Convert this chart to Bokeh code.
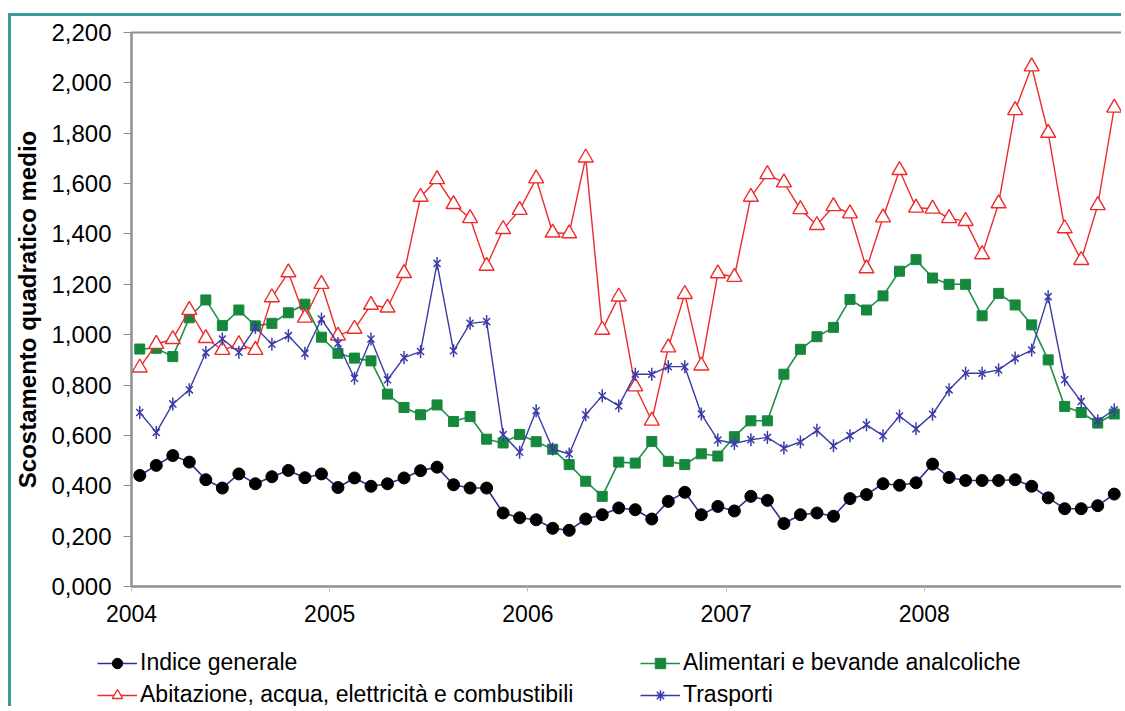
import math
from bokeh.plotting import figure
from bokeh.models import Range1d, FixedTicker, CustomJSTickFormatter, Legend, LegendItem
from bokeh.embed import file_html
from bokeh.resources import INLINE

# ---- data (monthly, Jan 2004 - Dec 2008) ----
year_ticks = [2004, 2005, 2006, 2007, 2008]
y_ticks = [0.0, 0.2, 0.4, 0.6, 0.8, 1.0, 1.2, 1.4, 1.6, 1.8, 2.0, 2.2]
months = [(y, m) for y in range(2004, 2009) for m in range(1, 13)]

indice_generale = [
    0.441, 0.481, 0.520, 0.494, 0.424, 0.391, 0.447, 0.408, 0.436, 0.461, 0.432, 0.447,
    0.393, 0.431, 0.398, 0.408, 0.431, 0.460, 0.474, 0.404, 0.391, 0.391, 0.292, 0.273,
    0.265, 0.231, 0.223, 0.268, 0.285, 0.312, 0.305, 0.268, 0.338, 0.374, 0.285, 0.318,
    0.300, 0.358, 0.342, 0.250, 0.285, 0.292, 0.279, 0.349, 0.365, 0.408, 0.402, 0.412,
    0.486, 0.433, 0.421, 0.421, 0.421, 0.424, 0.398, 0.352, 0.309, 0.309, 0.321, 0.367]

alimentari = [
    0.943, 0.946, 0.913, 1.067, 1.138, 1.036, 1.098, 1.035, 1.045, 1.087, 1.121, 0.990,
    0.926, 0.907, 0.896, 0.764, 0.711, 0.682, 0.721, 0.655, 0.675, 0.585, 0.570, 0.604,
    0.575, 0.545, 0.484, 0.418, 0.358, 0.494, 0.490, 0.576, 0.497, 0.484, 0.527, 0.518,
    0.595, 0.658, 0.658, 0.843, 0.942, 0.992, 1.029, 1.140, 1.098, 1.154, 1.252, 1.298,
    1.225, 1.200, 1.200, 1.075, 1.164, 1.118, 1.039, 0.900, 0.715, 0.691, 0.649, 0.685]

abitazione = [
    0.869, 0.963, 0.982, 1.098, 0.986, 0.939, 0.962, 0.939, 1.148, 1.247, 1.067, 1.201,
    0.996, 1.023, 1.118, 1.107, 1.244, 1.547, 1.617, 1.518, 1.462, 1.273, 1.419, 1.495,
    1.620, 1.405, 1.402, 1.703, 1.019, 1.151, 0.794, 0.658, 0.949, 1.161, 0.877, 1.243,
    1.229, 1.547, 1.637, 1.604, 1.498, 1.435, 1.510, 1.481, 1.263, 1.465, 1.653, 1.504,
    1.500, 1.462, 1.451, 1.319, 1.521, 1.891, 2.065, 1.801, 1.422, 1.296, 1.514, 1.901]

trasporti = [
    0.691, 0.612, 0.725, 0.781, 0.929, 0.983, 0.930, 1.029, 0.962, 0.996, 0.926, 1.062,
    0.965, 0.827, 0.983, 0.821, 0.909, 0.933, 1.283, 0.936, 1.045, 1.052, 0.603, 0.533,
    0.698, 0.546, 0.526, 0.682, 0.757, 0.717, 0.843, 0.843, 0.873, 0.873, 0.685, 0.582,
    0.568, 0.583, 0.592, 0.550, 0.574, 0.620, 0.559, 0.599, 0.642, 0.599, 0.677, 0.626,
    0.684, 0.781, 0.847, 0.847, 0.860, 0.907, 0.939, 1.151, 0.821, 0.735, 0.658, 0.702]

labels = ["Indice generale",
          "Alimentari e bevande analcoliche",
          "Abitazione, acqua, elettricità e combustibili",
          "Trasporti"]

# month positioned in the middle of its slot on a decimal-year axis
x = [y + (m - 0.5) / 12 for (y, m) in months]

FONT = "Liberation Sans"
TEAL = "#3a9a9c"

NAVY = "#2e3192"
GREEN_L = "#1f8f4a"
GREEN_M = "#16883c"
RED = "#ee2b2b"
BLUE = "#3b3ba8"

# ---------------- main chart ----------------
p = figure(width=1113, height=620,
           x_range=Range1d(2004, 2009), y_range=Range1d(0, 2.2),
           output_backend="svg", toolbar_location=None,
           min_border_left=119, min_border_top=16, min_border_bottom=50, min_border_right=2,
           styles={"margin-left": "8px", "margin-top": "13px",
                   "border-left": f"3px solid {TEAL}", "border-top": f"3px solid {TEAL}"})

p.background_fill_color = "white"
p.border_fill_color = "white"
p.outline_line_color = "#8f8f8f"
p.outline_line_width = 2
p.xgrid.visible = False
p.ygrid.visible = False

p.xaxis.ticker = FixedTicker(ticks=year_ticks)
p.xaxis.minor_tick_line_color = None
p.xaxis.major_tick_out = 5
p.xaxis.major_tick_in = 0
p.xaxis.major_tick_line_color = "#bdbdbd"
p.xaxis.axis_line_color = "#8f8f8f"
p.xaxis.axis_line_width = 2
p.xaxis.major_label_standoff = 13
p.xaxis.major_label_text_font = FONT
p.xaxis.major_label_text_font_size = "23px"
p.xaxis.major_label_text_color = "black"

p.yaxis.ticker = FixedTicker(ticks=y_ticks)
p.yaxis.formatter = CustomJSTickFormatter(code="return tick.toFixed(3).replace('.', ',');")
p.yaxis.minor_tick_line_color = None
p.yaxis.major_tick_out = 8
p.yaxis.major_tick_in = 0
p.yaxis.major_tick_line_color = "#8f8f8f"
p.yaxis.axis_line_color = "#8f8f8f"
p.yaxis.axis_line_width = 2
p.yaxis.major_label_standoff = 12
p.yaxis.major_label_text_font = FONT
p.yaxis.major_label_text_font_size = "24px"
p.yaxis.major_label_text_color = "black"
p.yaxis.axis_label = "Scostamento quadratico medio"
p.yaxis.axis_label_text_font = FONT
p.yaxis.axis_label_text_font_size = "24px"
p.yaxis.axis_label_text_font_style = "bold"
p.yaxis.axis_label_text_color = "black"
p.yaxis.axis_label_standoff = 7

p.line(x, indice_generale, line_color=NAVY, line_width=1.6)
p.scatter(x, indice_generale, marker="circle", size=12, fill_color="black", line_color="black")

p.line(x, alimentari, line_color=GREEN_L, line_width=1.6)
p.scatter(x, alimentari, marker="square", size=10, fill_color=GREEN_M, line_color=GREEN_M)

p.line(x, abitazione, line_color=RED, line_width=1.4)
p.scatter(x, abitazione, marker="triangle", size=15, fill_color="white", line_color=RED, line_width=1.4)

p.line(x, trasporti, line_color=BLUE, line_width=1.4)
p.scatter(x, trasporti, marker="x", size=10, line_color=BLUE, line_width=1.5)
p.scatter(x, trasporti, marker="dash", angle=math.pi / 2, size=13, line_color=BLUE, line_width=1.5)

# ---------------- legend strip (separate root, no axes) ----------------
q = figure(width=1113, height=73, x_range=Range1d(0, 1), y_range=Range1d(0, 1),
           output_backend="svg", toolbar_location=None,
           x_axis_location=None, y_axis_location=None,
           min_border_left=0, min_border_right=0, min_border_top=0, min_border_bottom=0,
           styles={"margin-left": "8px", "border-left": f"3px solid {TEAL}"})
q.grid.visible = False
q.outline_line_color = None
q.background_fill_color = "white"
q.border_fill_color = "white"

# legend-only renderers (single point placed outside the visible range)
hx, hy = [-5], [-5]
k1 = [q.line(hx, hy, line_color=NAVY, line_width=1.6),
      q.scatter(hx, hy, marker="circle", fill_color="black", line_color="black")]
k2 = [q.line(hx, hy, line_color=GREEN_L, line_width=1.6),
      q.scatter(hx, hy, marker="square", fill_color=GREEN_M, line_color=GREEN_M)]
k3 = [q.line(hx, hy, line_color=RED, line_width=1.4),
      q.scatter(hx, hy, marker="triangle", fill_color="white", line_color=RED, line_width=1.4)]
k4 = [q.line(hx, hy, line_color=BLUE, line_width=1.4),
      q.scatter(hx, hy, marker="asterisk", line_color=BLUE, line_width=1.5)]

def make_legend(items, loc):
    lg = Legend(items=items, location=loc, orientation="vertical")
    lg.label_text_font = FONT
    lg.label_text_font_size = "23px"
    lg.label_text_color = "black"
    lg.glyph_width = 40
    lg.glyph_height = 26
    lg.label_height = 20
    lg.label_standoff = 3
    lg.spacing = 5
    lg.padding = 0
    lg.margin = 0
    lg.border_line_alpha = 0
    lg.background_fill_alpha = 0
    return lg

q.add_layout(make_legend([LegendItem(label=labels[0], renderers=k1),
                          LegendItem(label=labels[2], renderers=k3)], (86, -2)))
q.add_layout(make_legend([LegendItem(label=labels[1], renderers=k2),
                          LegendItem(label=labels[3], renderers=k4)], (629, -2)))

open("out.html", "w").write(file_html([p, q], INLINE))
